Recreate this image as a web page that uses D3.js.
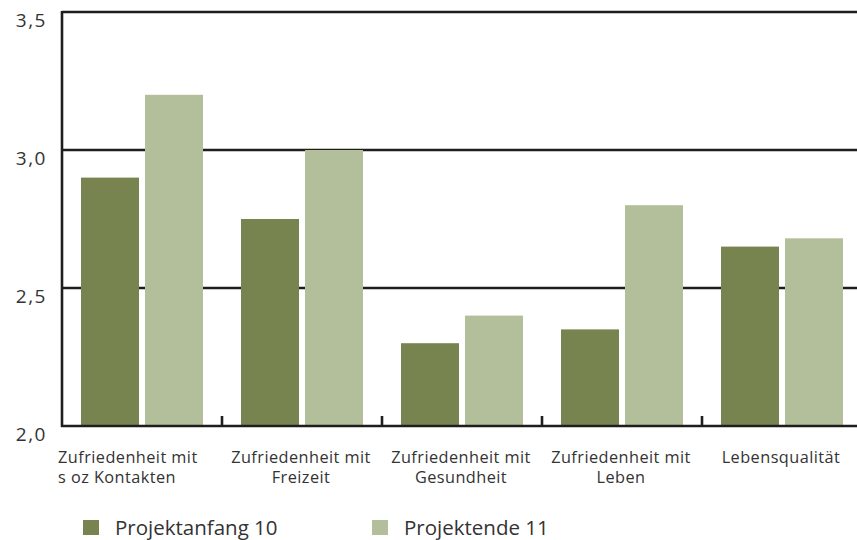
<!DOCTYPE html>
<html>
<head>
<meta charset="UTF-8">
<title>Zufriedenheit</title>
<style>
  body { margin: 0; background: #fff; }
  svg { display: block; font-family: "Open Sans", sans-serif; }
</style>
</head>
<body>
<svg width="857" height="540"></svg>
<script src="https://cdn.jsdelivr.net/npm/d3@7"></script>
<script>
// data
const categories = [
  ["Zufriedenheit mit", "s oz Kontakten"],
  ["Zufriedenheit mit", "Freizeit"],
  ["Zufriedenheit mit", "Gesundheit"],
  ["Zufriedenheit mit", "Leben"],
  ["Lebensqualität"]
];
const seriesNames = ["Projektanfang 10", "Projektende 11"];
const projektanfang = [2.9, 2.75, 2.3, 2.35, 2.65];
const projektende = [3.2, 3.0, 2.4, 2.8, 2.68];
const yTicks = [2.0, 2.5, 3.0, 3.5];
const colors = ["#78844f", "#b3be9a"];

const svg = d3.select("svg");
const plotLeft = 62, plotRight = 862, plotTop = 12, plotBottom = 426;

const de = d3.formatLocale({decimal: ",", thousands: ".", grouping: [3], currency: ["", " €"]});
const fmt = de.format(".1f");

const keys = categories.map((c, i) => "c" + i);
const x0 = d3.scaleBand().domain(keys).range([plotLeft, plotRight]);
const x1 = d3.scaleBand().domain(seriesNames).range([19, 141]).paddingInner(6 / 64);
const y = d3.scaleLinear().domain([2.0, 3.5]).range([plotBottom, plotTop]);
const color = d3.scaleOrdinal().domain(seriesNames).range(colors);

const rows = keys.map((k, i) => ({key: k, values: [projektanfang[i], projektende[i]]}));

// gridlines
svg.append("g")
  .selectAll("line")
  .data(yTicks.filter(t => t > 2.0))
  .join("line")
  .attr("x1", plotLeft)
  .attr("x2", 857)
  .attr("y1", d => y(d))
  .attr("y2", d => y(d))
  .attr("stroke", "#1e1e1e")
  .attr("stroke-width", 2.6);

// bars
svg.append("g")
  .selectAll("g")
  .data(rows)
  .join("g")
  .attr("transform", d => `translate(${x0(d.key)},0)`)
  .selectAll("rect")
  .data(d => d.values.map((v, j) => ({name: seriesNames[j], value: v})))
  .join("rect")
  .attr("x", d => x1(d.name))
  .attr("width", x1.bandwidth())
  .attr("y", d => y(d.value))
  .attr("height", d => y(2.0) - y(d.value))
  .attr("fill", d => color(d.name));

// axes lines
svg.append("line")
  .attr("x1", plotLeft).attr("x2", plotLeft)
  .attr("y1", plotTop - 1).attr("y2", plotBottom + 1)
  .attr("stroke", "#1e1e1e").attr("stroke-width", 2.6);
svg.append("line")
  .attr("x1", plotLeft - 1).attr("x2", 857)
  .attr("y1", plotBottom).attr("y2", plotBottom)
  .attr("stroke", "#1e1e1e").attr("stroke-width", 2.6);

// category separators
svg.append("g")
  .selectAll("line")
  .data(keys.slice(1))
  .join("line")
  .attr("x1", d => x0(d)).attr("x2", d => x0(d))
  .attr("y1", plotBottom - 10).attr("y2", plotBottom)
  .attr("stroke", "#1e1e1e").attr("stroke-width", 2.6);

// y tick labels
svg.append("g")
  .selectAll("text")
  .data(yTicks)
  .join("text")
  .attr("x", 47)
  .attr("y", d => y(d) + 15)
  .attr("text-anchor", "end")
  .attr("font-size", 19)
  .attr("letter-spacing", 1.5)
  .attr("fill", "#333")
  .text(d => fmt(d));

// category labels
const catLabel = svg.append("g")
  .selectAll("text")
  .data(categories)
  .join("text")
  .attr("font-size", 16.3)
  .attr("letter-spacing", 0.45)
  .attr("fill", "#333")
  .attr("text-anchor", (d, i) => i === 0 ? "start" : "middle")
  .attr("x", (d, i) => i === 0 ? x0(keys[i]) - 4 : x0(keys[i]) + x0.bandwidth() / 2 - 1);

catLabel.selectAll("tspan")
  .data(d => d)
  .join("tspan")
  .attr("x", function() { return this.parentNode.getAttribute("x"); })
  .attr("y", (d, i) => 463 + i * 20)
  .text(d => d);

// legend
const legend = svg.append("g")
  .selectAll("g")
  .data(seriesNames)
  .join("g")
  .attr("transform", (d, i) => `translate(${83 + i * 289},520)`);

legend.append("rect")
  .attr("width", 16)
  .attr("height", 15)
  .attr("fill", d => color(d));

legend.append("text")
  .attr("x", 32)
  .attr("y", 15)
  .attr("font-size", 20.5)
  .attr("fill", "#333")
  .text(d => d);
</script>
</body>
</html>
